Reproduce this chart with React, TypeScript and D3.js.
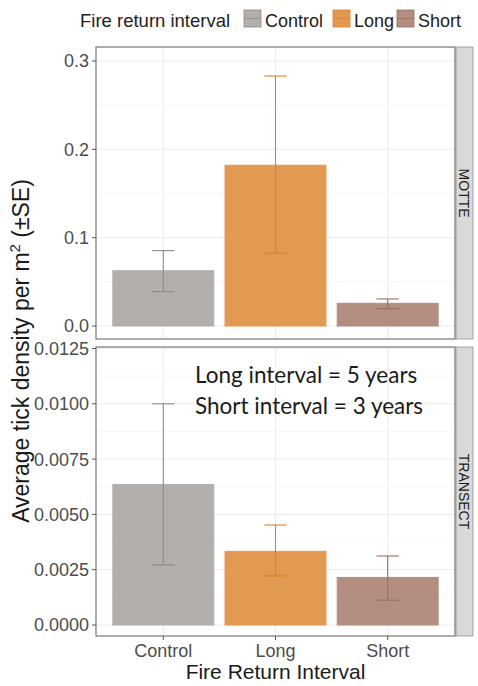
import React from "react";
import * as d3 from "d3";

const categories = ["Control", "Long", "Short"];
const facets = ["MOTTE", "TRANSECT"];
const motteMean = [0.0626, 0.182, 0.0257];
const motteLower = [0.0389, 0.0823, 0.0196];
const motteUpper = [0.0853, 0.283, 0.0306];
const transectMean = [0.00635, 0.00333, 0.00215];
const transectLower = [0.00272, 0.00222, 0.00112];
const transectUpper = [0.0100, 0.00452, 0.00312];
const motteTicks = [0, 0.1, 0.2, 0.3];
const transectTicks = [0, 0.0025, 0.005, 0.0075, 0.01, 0.0125];
const fillColors = ["#b2afac", "#e29a52", "#b38d80"];
const errColors = ["#8f8a87", "#d98228", "#9a6d60"];
const legendTitle = "Fire return interval";
const xTitle = "Fire Return Interval";
const noteLines = ["Long interval = 5 years", "Short interval = 3 years"];

const W = 478, H = 686;
const left = 96, right = 455;
const FONT = "'Liberation Sans', Arial, sans-serif";

export default function App() {
  const unit = (right - left) / 3.2;
  const x = d3.scaleLinear().domain([0.4, 3.6]).range([left, right]);
  const cx = (i: number) => x(i + 1);
  const barW = 0.9 * unit;
  const capW = 0.2 * unit;

  const panels = [
    { name: facets[0], top: 47, bottom: 339, y: d3.scaleLinear().domain([0, 0.3]).range([326, 61]), mean: motteMean, lo: motteLower, hi: motteUpper, ticks: motteTicks, fmt: d3.format(".1f") },
    { name: facets[1], top: 347, bottom: 636, y: d3.scaleLinear().domain([0, 0.0125]).range([625, 348.5]), mean: transectMean, lo: transectLower, hi: transectUpper, ticks: transectTicks, fmt: d3.format(".4f") },
  ];

  const gridMinor = (p: any) => {
    const t = p.ticks;
    const out: number[] = [];
    for (let i = 0; i < t.length - 1; i++) out.push((t[i] + t[i + 1]) / 2);
    return out;
  };

  const legendX = [244, 333, 397];

  return (
    <svg width={W} height={H} style={{ position: "absolute", left: 0, top: 0, background: "#fff", fontFamily: FONT }}>
      <rect x={0} y={0} width={W} height={H} fill="#fff" />
      {/* legend */}
      <g style={{ fontFamily: FONT }} fill="#222">
        <text x={80} y={27} fontSize={18.5}>{legendTitle}</text>
        {categories.map((c, i) => {
          const xs = legendX[i];
          return (
            <g key={c}>
              <rect x={xs} y={10} width={17} height={17} fill={fillColors[i]} stroke={errColors[i]} strokeWidth={0.8} />
              <line x1={xs} x2={xs + 17} y1={18.5} y2={18.5} stroke={errColors[i]} strokeWidth={0.8} />
              <text x={xs + 21} y={27} fontSize={18}>{c}</text>
            </g>
          );
        })}
      </g>
      {panels.map((p) => (
        <g key={p.name}>
          <rect x={left} y={p.top} width={right - left} height={p.bottom - p.top} fill="#fff" />
          {gridMinor(p).map((v: number) => (
            <line key={"m" + v} x1={left} x2={right} y1={p.y(v)} y2={p.y(v)} stroke="#f2f2f2" strokeWidth={0.6} />
          ))}
          {p.ticks.map((v: number) => (
            <line key={"g" + v} x1={left} x2={right} y1={p.y(v)} y2={p.y(v)} stroke="#ebebeb" strokeWidth={1} />
          ))}
          {categories.map((c, i) => (
            <line key={"v" + c} x1={cx(i)} x2={cx(i)} y1={p.top} y2={p.bottom} stroke="#ebebeb" strokeWidth={1} />
          ))}
          {categories.map((c, i) => (
            <rect key={"b" + c} x={cx(i) - barW / 2} y={p.y(p.mean[i])} width={barW} height={p.y(0) - p.y(p.mean[i])} fill={fillColors[i]} stroke={fillColors[i]} strokeWidth={1} />
          ))}
          {categories.map((c, i) => (
            <g key={"e" + c} stroke={errColors[i]} strokeWidth={1.1}>
              <line x1={cx(i)} x2={cx(i)} y1={p.y(p.hi[i])} y2={p.y(p.lo[i])} />
              <line x1={cx(i) - capW / 2} x2={cx(i) + capW / 2} y1={p.y(p.hi[i])} y2={p.y(p.hi[i])} />
              <line x1={cx(i) - capW / 2} x2={cx(i) + capW / 2} y1={p.y(p.lo[i])} y2={p.y(p.lo[i])} />
            </g>
          ))}
          <rect x={left} y={p.top} width={right - left} height={p.bottom - p.top} fill="none" stroke="#7a7675" strokeWidth={1.2} />
          {p.ticks.map((v: number) => (
            <g key={"t" + v}>
              <line x1={left - 4} x2={left} y1={p.y(v)} y2={p.y(v)} stroke="#555" strokeWidth={1} />
              <text x={left - 7} y={p.y(v)} dy="0.36em" textAnchor="end" style={{ fontFamily: FONT }} fontSize={18} fill="#4d4d4d">{p.fmt(v)}</text>
            </g>
          ))}
          {/* strip */}
          <rect x={right + 1} y={p.top} width={17} height={p.bottom - p.top} fill="#d9d9d9" stroke="#7a7675" strokeWidth={0.6} />
          <text transform={`translate(${right + 9.5}, ${(p.top + p.bottom) / 2}) rotate(90)`} textAnchor="middle" dy="0.36em" style={{ fontFamily: FONT }} fontSize={14} fill="#1a1a1a">{p.name}</text>
        </g>
      ))}
      {/* x axis */}
      {categories.map((c, i) => (
        <g key={"x" + c}>
          <line x1={cx(i)} x2={cx(i)} y1={636} y2={640} stroke="#555" />
          <text x={cx(i)} y={657} textAnchor="middle" style={{ fontFamily: FONT }} fontSize={18} fill="#4d4d4d">{c}</text>
        </g>
      ))}
      <text x={(left + right) / 2} y={679} textAnchor="middle" style={{ fontFamily: FONT }} fontSize={21} fill="#1a1a1a">{xTitle}</text>
      <text transform={`translate(29, 351) rotate(-90)`} textAnchor="middle" style={{ fontFamily: FONT }} fontSize={23} fill="#1a1a1a">
        Average tick density per m<tspan dy={-9} fontSize={14.5}>2</tspan><tspan dy={9}> (±SE)</tspan>
      </text>
      {/* annotation */}
      <g style={{ fontFamily: "Lato, 'Open Sans', sans-serif" }} fontSize={22.5} fill="#1a1a1a">
        <text x={195} y={383}>{noteLines[0]}</text>
        <text x={195} y={414}>{noteLines[1]}</text>
      </g>
    </svg>
  );
}
